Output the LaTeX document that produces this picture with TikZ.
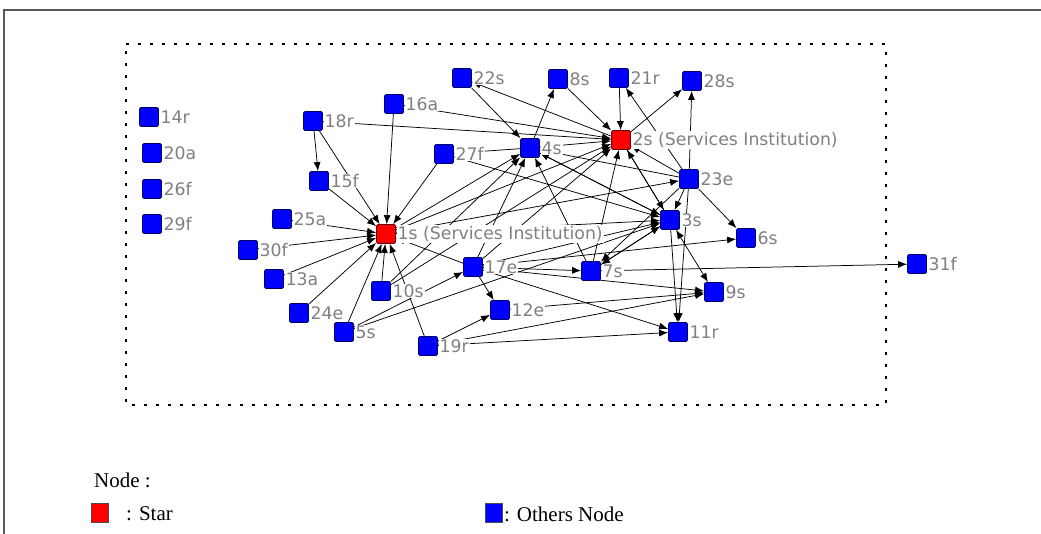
\documentclass[tikz,border=0pt]{standalone}
\usepackage{fontspec}
\setmainfont{Liberation Serif}
\newfontfamily\lblfont{DejaVu Sans}
\usetikzlibrary{arrows.meta,backgrounds}
\begin{document}
\begin{tikzpicture}[x=1pt,y=-1pt,
  nd/.style={draw=black!60!blue, fill=blue, minimum size=19pt, inner sep=0pt, rounded corners=1.5pt, line width=0.8pt},
  star/.style={nd, fill=red, draw=black!60!red},
  lbl/.style={anchor=west, text=black!50, font=\lblfont\fontsize{17.3}{18}\selectfont, fill=white, inner sep=0.8pt},
  ed/.style={-{Latex[length=9pt,width=7pt]}, line width=0.75pt},
  ded/.style={{Latex[length=9pt,width=7pt]}-{Latex[length=9pt,width=7pt]}, line width=0.75pt},
  dots/.style={line width=2.8pt, dash pattern=on 2.8pt off 9.2pt},
  frame/.style={draw=black!65, line width=1.4pt},
  legtxt/.style={anchor=west, font=\fontsize{21}{22}\selectfont, inner sep=0pt},
  legbox/.style={draw=black!70, line width=0.8pt, minimum width=17pt, minimum height=19pt, inner sep=0pt},
]
\useasboundingbox (0,0) rectangle (1041,534);
\newcommand\NN[5]{\node[#5] (n#1) at (#2,#3) {}; \node[lbl] (l#1) at ([xshift=0.8pt]n#1.east) {#4};}

% nodes
\NN{14r}{149}{117}{14r}{nd}
\NN{20a}{152}{153}{20a}{nd}
\NN{26f}{152}{189}{26f}{nd}
\NN{29f}{152}{224}{29f}{nd}
\NN{22s}{462}{78}{22s}{nd}
\NN{8s}{558}{79}{8s}{nd}
\NN{21r}{619}{78}{21r}{nd}
\NN{28s}{692}{81}{28s}{nd}
\NN{16a}{394}{104}{16a}{nd}
\NN{18r}{313}{121}{18r}{nd}
\NN{2s}{621}{140}{2s (Services Institution)}{star}
\NN{27f}{444}{154}{27f}{nd}
\NN{4s}{530}{148}{4s}{nd}
\NN{23e}{689}{179}{23e}{nd}
\NN{15f}{319}{181}{15f}{nd}
\NN{25a}{282}{219}{25a}{nd}
\NN{3s}{670}{220}{3s}{nd}
\NN{1s}{386}{234}{1s (Services Institution)}{star}
\NN{6s}{746}{238}{6s}{nd}
\NN{30f}{248}{250}{30f}{nd}
\NN{17e}{473}{267}{17e}{nd}
\NN{7s}{591}{271}{7s}{nd}
\NN{31f}{917}{264}{31f}{nd}
\NN{13a}{274}{279}{13a}{nd}
\NN{10s}{381}{291}{10s}{nd}
\NN{9s}{714}{292}{9s}{nd}
\NN{24e}{299}{313}{24e}{nd}
\NN{12e}{500}{310}{12e}{nd}
\NN{5s}{344}{332}{5s}{nd}
\NN{11r}{678}{332}{11r}{nd}
\NN{19r}{428}{346}{19r}{nd}

% legend
\node[legtxt] (legtitle) at (94,480) {Node :};
\node[legbox, fill=red] (legstar) at (100,513) {};
\node[legtxt] (legstart) at (126,514) {: Star};
\node[legbox, fill=blue] (legother) at (494,513) {};
\node[legtxt] (legothert) at ([xshift=1pt,yshift=-1pt]legother.east) {: Others Node};

\begin{scope}[on background layer]
  \fill[white] (0,0) rectangle (1041,534);
  \coordinate (ftl) at (4,10);
  \coordinate (ftr) at (1041,10);
  \coordinate (fbl) at (4,534);
  \draw[frame] (ftr) -- (ftl) -- (fbl);
  \coordinate (da) at (126,44);
  \coordinate (db) at (886,44);
  \coordinate (dc) at (886,405);
  \coordinate (dd) at (126,405);
  \draw[dots] (da) -- (db) -- (dc) -- (dd) -- cycle;
  % directed edges
  \foreach \a/\b in {15f/1s,16a/1s,27f/1s,25a/1s,30f/1s,13a/1s,24e/1s,5s/1s,10s/1s,19r/1s,17e/1s,18r/1s,
    18r/15f,
    1s/4s,1s/2s,1s/3s,1s/23e,
    16a/2s,18r/2s,4s/2s,8s/2s,21r/2s,23e/2s,3s/2s,17e/2s,7s/2s,10s/2s,
    2s/22s,2s/28s,2s/3s,
    22s/4s,4s/8s,4s/27f,17e/4s,10s/4s,7s/4s,23e/4s,3s/4s,
    4s/3s,27f/3s,17e/3s,7s/3s,23e/3s,
    23e/21r,23e/28s,23e/6s,23e/7s,23e/11r,
    3s/11r,3s/7s,
    17e/7s,17e/9s,17e/11r,17e/12e,17e/6s,
    7s/31f,
    12e/9s,19r/9s,19r/11r,19r/12e,
    5s/17e,5s/3s}
    \draw[ed] (n\a) -- (n\b);
  \draw[ded] (n3s) -- (n9s);
\end{scope}
\end{tikzpicture}
\end{document}
